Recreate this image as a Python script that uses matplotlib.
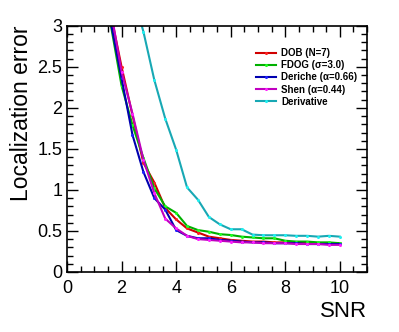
#!/usr/bin/env python3
"""Localization error vs SNR for several edge detectors."""

import matplotlib.pyplot as plt
from matplotlib.ticker import MultipleLocator

plt.rcParams['font.family'] = ['Liberation Sans', 'DejaVu Sans']

snr = [1.6, 2.0, 2.4, 2.8, 3.2, 3.6, 4.0, 4.4, 4.8, 5.2, 5.6, 6.0, 6.4, 6.8,
       7.2, 7.6, 8.0, 8.4, 8.8, 9.2, 9.6, 10.0]

dob = [3.15, 2.50, 1.91, 1.33, 1.09, 0.78, 0.64, 0.53, 0.48, 0.43, 0.41, 0.39,
       0.38, 0.37, 0.37, 0.36, 0.36, 0.36, 0.35, 0.35, 0.35, 0.35]
fdog = [3.02, 2.27, 1.79, 1.39, 1.02, 0.80, 0.72, 0.56, 0.51, 0.49, 0.46, 0.45,
        0.43, 0.42, 0.41, 0.41, 0.38, 0.37, 0.37, 0.36, 0.36, 0.35]
deriche = [3.05, 2.36, 1.67, 1.22, 0.90, 0.76, 0.51, 0.44, 0.41, 0.41, 0.39, 0.38,
           0.37, 0.36, 0.36, 0.35, 0.35, 0.35, 0.34, 0.34, 0.34, 0.34]
shen = [3.20, 2.44, 1.93, 1.37, 0.96, 0.65, 0.53, 0.44, 0.40, 0.39, 0.38, 0.37,
        0.36, 0.36, 0.35, 0.35, 0.35, 0.34, 0.34, 0.34, 0.33, 0.33]
deriv = [4.40, 3.90, 3.40, 2.93, 2.34, 1.87, 1.49, 1.03, 0.88, 0.67, 0.58, 0.52,
         0.52, 0.455, 0.447, 0.447, 0.447, 0.44, 0.44, 0.43, 0.44, 0.43]

labels = ['DOB (N=7)', 'FDOG (\u03c3=3.0)', 'Deriche (\u03b1=0.66)',
          'Shen (\u03b1=0.44)', 'Derivative']
series = [dob, fdog, deriche, shen, deriv]
line_colors = ['#d00000', '#00b000', '#0000b0', '#c000c0', '#18a8b4']
marker_colors = ['#ff2020', '#20ff20', '#2020ff', '#ff20ff', '#20f0f0']

fig = plt.figure(figsize=(3.99, 3.32), dpi=100)
ax = fig.add_axes([0.168, 0.181, 0.752, 0.741])

for y, lab, lc, mc in zip(series, labels, line_colors, marker_colors):
    ax.plot(snr, y, '-', color=lc, lw=1.5, marker='o', ms=1.2,
            mfc=mc, mec=mc, label=lab)

ax.set_xlim(0, 11)
ax.set_ylim(0, 3)
ax.xaxis.set_major_locator(MultipleLocator(2))
ax.xaxis.set_minor_locator(MultipleLocator(0.5))
ax.yaxis.set_major_locator(MultipleLocator(0.5))
ax.yaxis.set_minor_locator(MultipleLocator(0.1))
ax.set_yticks([0, 0.5, 1, 1.5, 2, 2.5, 3])
ax.set_yticklabels(['0', '0.5', '1', '1.5', '2', '2.5', '3'])
ax.tick_params(which='both', direction='in', top=True, right=True,
               labelsize=13, width=1.0)
ax.tick_params(axis='x', pad=6)
ax.tick_params(which='major', length=8)
ax.tick_params(which='minor', length=4)
for s in ax.spines.values():
    s.set_linewidth(1.2)

ax.set_ylabel('Localization error', fontsize=16.5, loc='top', labelpad=3)
ax.set_xlabel('SNR', fontsize=16, loc='right', labelpad=3)

leg = ax.legend(loc='upper left', bbox_to_anchor=(0.6, 0.945), frameon=False,
                prop={'size': 7, 'weight': 'bold'}, handlelength=2.1,
                handletextpad=0.5, labelspacing=0.22, markerscale=1.0)

plt.savefig('out.png', dpi=100)
print("Saved out.png")
